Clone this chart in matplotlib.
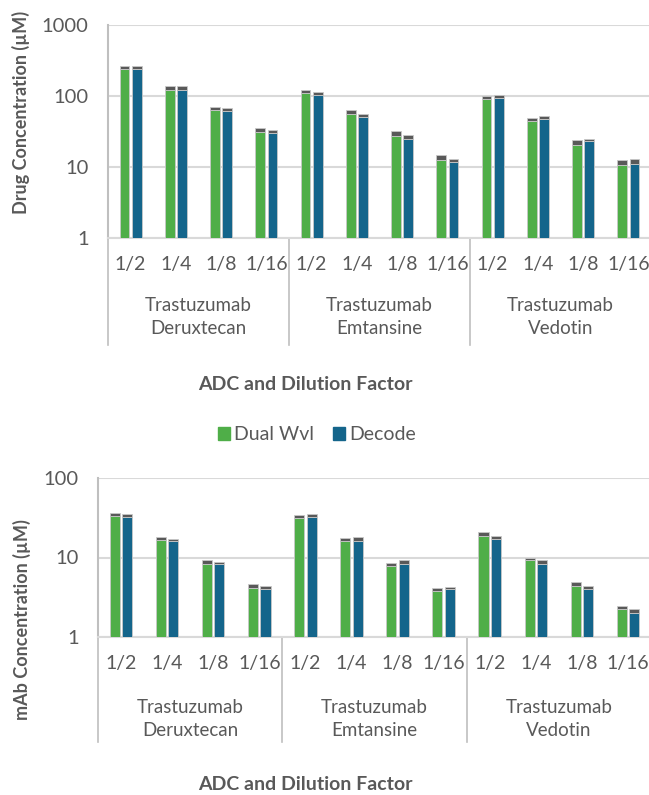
import numpy as np
import matplotlib
matplotlib.use("Agg")
import matplotlib.pyplot as plt
import matplotlib.transforms as mtransforms
from matplotlib.patches import Patch

plt.rcParams['font.family'] = ['Lato', 'DejaVu Sans']

# ---- data ----
dilutions = ["1/2", "1/4", "1/8", "1/16"]
adcs = ["Trastuzumab\nDeruxtecan", "Trastuzumab\nEmtansine", "Trastuzumab\nVedotin"]

# drug concentration (uM): bar value and top of grey error cap
drug_dual = [243, 123, 62.9, 30.8, 111, 56.3, 27.6, 12.7, 90.8, 44.5, 20.6, 10.8]
drug_dual_top = [267, 137, 69.3, 35.4, 123, 63, 31.8, 14.6, 100, 49, 24.3, 12.7]
drug_decode = [240, 123, 60.9, 29.8, 103, 50.6, 25.0, 11.9, 93.7, 47.4, 23.0, 11.1]
drug_decode_top = [267, 137, 67.1, 32.9, 115, 56.3, 28.5, 13.1, 103, 52.8, 25.0, 13.1]

# mAb concentration (uM)
mab_dual = [32.9, 16.4, 8.4, 4.19, 31.0, 15.9, 7.93, 3.84, 18.9, 9.4, 4.44, 2.28]
mab_dual_top = [36.2, 18.0, 9.17, 4.61, 33.8, 17.5, 8.65, 4.19, 21.1, 10.0, 4.89, 2.48]
mab_decode = [31.9, 15.9, 8.4, 4.06, 32.2, 16.2, 8.4, 3.99, 16.9, 8.4, 4.06, 2.01]
mab_decode_top = [34.8, 17.3, 8.9, 4.44, 35.2, 18.0, 9.25, 4.31, 18.6, 9.25, 4.44, 2.28]

GREEN = "#4FAE48"
BLUE = "#14658B"
CAP = "#595959"
TXT = "#595959"
GRID = "#D9D9D9"
LINE = "#BFBFBF"


def draw_panel(ax, dual, dual_top, dec, dec_top, ymax, div_len, name_pos):
    n = len(dual)
    x = np.arange(n)
    w = 0.22
    off = 0.135
    dual = np.array(dual); dual_top = np.array(dual_top)
    dec = np.array(dec); dec_top = np.array(dec_top)
    ax.bar(x - off, dual, w, color=GREEN, edgecolor="#C8C8C8", linewidth=0.6, zorder=3)
    ax.bar(x - off, dual_top - dual, w, bottom=dual, color=CAP, edgecolor="#C8C8C8",
           linewidth=0.6, zorder=3)
    ax.bar(x + off, dec, w, color=BLUE, edgecolor="#C8C8C8", linewidth=0.6, zorder=3)
    ax.bar(x + off, dec_top - dec, w, bottom=dec, color=CAP, edgecolor="#C8C8C8",
           linewidth=0.6, zorder=3)

    ax.set_yscale("log")
    ax.set_ylim(1, ymax)
    ax.set_xlim(-0.5, n - 0.5)
    ticks = [10 ** k for k in range(int(np.log10(ymax)) + 1)]
    ax.set_yticks(ticks)
    ax.set_yticklabels([str(t) for t in ticks])
    ax.yaxis.set_minor_locator(matplotlib.ticker.NullLocator())
    ax.tick_params(axis="y", length=0, pad=14, labelsize=14.5, labelcolor=TXT)
    ax.grid(axis="y", color=GRID, linewidth=1.5, zorder=0)

    ax.set_xticks(x)
    ax.set_xticklabels(dilutions * 3)
    ax.tick_params(axis="x", length=0, pad=13, labelsize=14, labelcolor=TXT)

    for s in ["top", "right"]:
        ax.spines[s].set_visible(False)
    ax.spines["left"].set_color(LINE)
    ax.spines["left"].set_linewidth(1.5)
    ax.spines["bottom"].set_color(GRID)
    ax.spines["bottom"].set_linewidth(1.5)

    trans = mtransforms.blended_transform_factory(ax.transData, ax.transAxes)
    for b in [-0.5, 3.5, 7.5, 11.5]:
        ax.plot([b, b], [0, -div_len], color=LINE, linewidth=1.2, transform=trans,
                clip_on=False)
    for g, name in enumerate(adcs):
        ax.text(g * 4 + 1.5, -name_pos, name, transform=trans, ha="center",
                va="center", fontsize=13.5, color=TXT, linespacing=1.45)


fig = plt.figure(figsize=(6.49, 7.95), dpi=100)

ax1 = fig.add_axes([108 / 649, 1 - 238 / 795, 543 / 649, 213 / 795])
draw_panel(ax1, drug_dual, drug_dual_top, drug_decode, drug_decode_top, 1000,
           107 / 213, 79 / 213)
ax2 = fig.add_axes([98 / 649, 1 - 637 / 795, 553 / 649, 159 / 795])
draw_panel(ax2, mab_dual, mab_dual_top, mab_decode, mab_decode_top, 100,
           105 / 159, 82 / 159)

fig.text(21 / 649, 1 - 112 / 795, "Drug Concentration (µM)", rotation=90, ha="center",
         va="center", fontsize=13, fontweight="bold", color=TXT)
fig.text(22 / 649, 1 - 620 / 795, "mAb Concentration (µM)", rotation=90, ha="center",
         va="center", fontsize=13, fontweight="bold", color=TXT)
fig.text(305 / 649, 1 - 384 / 795, "ADC and Dilution Factor", ha="center", va="center",
         fontsize=14, fontweight="bold", color=TXT)
fig.text(305 / 649, 1 - 784 / 795, "ADC and Dilution Factor", ha="center", va="center",
         fontsize=14, fontweight="bold", color=TXT)

handles = [Patch(color=GREEN, label="Dual Wvl"), Patch(color=BLUE, label="Decode")]
leg = fig.legend(handles=handles, loc="center", bbox_to_anchor=(317 / 649, 1 - 435 / 795),
                 ncol=2, frameon=False, fontsize=14, handlelength=0.6, handleheight=0.6,
                 handletextpad=0.2, columnspacing=1.0)
for t in leg.get_texts():
    t.set_color(TXT)

fig.savefig("out.png", dpi=100)
